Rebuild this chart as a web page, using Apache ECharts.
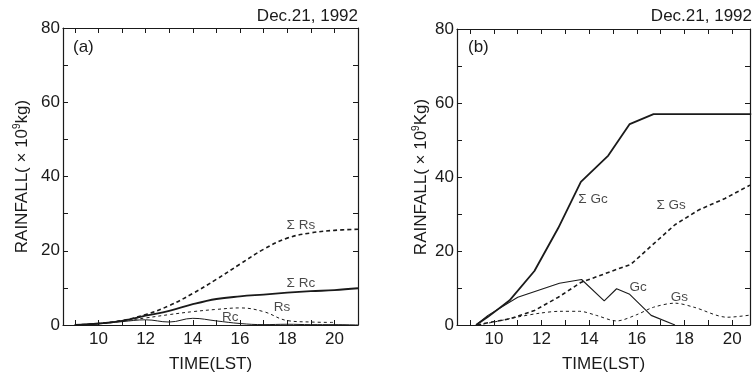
<!DOCTYPE html>
<html>
<head>
<meta charset="utf-8">
<script src="https://cdn.jsdelivr.net/npm/echarts@6/dist/echarts.min.js"></script>
<style>html,body{margin:0;padding:0;background:#fff}#c{width:756px;height:378px}</style>
</head>
<body>
<div id="c"></div>
<script>
// ---------- data ----------
const xTicks = [9, 10, 11, 12, 13, 14, 15, 16, 17, 18, 19, 20, 21];
const xLabels = [10, 12, 14, 16, 18, 20];
const yLabels = [0, 20, 40, 60, 80];

// panel (a): hourly values
const tA = [9, 10, 11, 12, 13, 14, 15, 16, 17, 18, 19, 20, 21];
const sumRs = [0, 0.4, 1.2, 2.8, 5.2, 8.5, 12.3, 16.4, 20.4, 23.4, 24.8, 25.5, 25.8];
const sumRc = [0, 0.4, 1.1, 2.5, 3.8, 5.6, 7.0, 7.7, 8.2, 8.7, 9.1, 9.4, 9.9];
const tRs = [9, 10, 11, 12, 13, 14, 15, 16, 17, 18, 19, 20];
const Rs = [0, 0.4, 1.1, 1.9, 2.8, 3.6, 4.2, 4.6, 3.6, 1.2, 0.8, 0.7];
const Rc = [0, 0.3, 0.9, 1.4, 0.8, 1.8, 1.1, 0.4, 0.1, 0.2, 0.1, 0.1, 0];

// panel (b): vertex values
const tSumGc = [9.25, 9.75, 10.65, 11.7, 12.7, 13.65, 14.8, 15.7, 16.7, 20.8];
const sumGc = [0, 2.2, 6.6, 14.6, 26.2, 38.7, 45.8, 54.3, 57.0, 57.0];
const tSumGs = [9.3, 9.9, 10.7, 11.7, 12.7, 13.65, 14.8, 15.75, 16.75, 17.6, 18.6, 19.7, 20.75];
const sumGs = [0, 0.8, 1.7, 3.9, 7.5, 11.5, 14.2, 16.4, 22.2, 27.1, 31.1, 34.2, 37.8];
const tGc = [9.25, 9.75, 11.0, 12.75, 13.68, 14.63, 15.15, 15.7, 16.6, 17.6];
const Gc = [0, 2.6, 7.5, 11.3, 12.3, 6.5, 9.8, 8.3, 2.6, 0];
const tGs = [9.3, 10.0, 10.95, 11.93, 12.77, 13.6, 14.3, 15.15, 16.0, 16.7, 17.6, 18.4, 19.8, 20.9];
const Gs = [0, 0.8, 2.1, 3.2, 3.7, 3.7, 2.6, 1.1, 2.8, 4.8, 5.9, 4.8, 2.1, 2.8];

// curve annotations
const annAText = ['Σ Rs', 'Σ Rc', 'Rs', 'Rc'];
const annAX = [18.58, 18.58, 17.78, 15.59];
const annAY = [26.9, 11.3, 4.8, 2.2];
const annBText = ['Σ Gc', 'Σ Gs', 'Gc', 'Gs'];
const annBX = [14.16, 17.44, 16.05, 17.79];
const annBY = [34.0, 32.4, 10.2, 7.5];

// ---------- chart ----------
const FONT = '"Liberation Sans", Arial, sans-serif';
const INK = '#1a1a1a';
const zip = (a, b) => a.map((v, i) => [v, b[i]]);

const grids = [
  { left: 63, top: 28, width: 295, height: 298 },
  { left: 457, top: 29, width: 293, height: 299 }
];
const xRange = [[8.5, 21.0], [8.45, 20.75]];
const yNameGap = [31, 26];

function xAxis(g, pos) {
  const bottom = pos === 'bottom';
  return {
    type: 'value', gridIndex: g, position: pos,
    min: xRange[g][0], max: xRange[g][1],
    axisLine: { show: true, onZero: false, lineStyle: { color: INK, width: 1.2 } },
    axisTick: { show: true, inside: true, length: 5, customValues: xTicks, lineStyle: { color: INK, width: 1 } },
    axisLabel: { show: bottom, customValues: xLabels, fontSize: 17, color: INK, fontFamily: FONT, margin: 6 },
    splitLine: { show: false },
    name: bottom ? 'TIME(LST)' : '',
    nameLocation: 'middle', nameGap: 31,
    nameTextStyle: { fontSize: 17, color: INK, fontFamily: FONT }
  };
}
function yAxis(g, pos, unit) {
  const left = pos === 'left';
  return {
    type: 'value', gridIndex: g, position: pos,
    min: 0, max: 80, interval: 10,
    axisLine: { show: true, onZero: false, lineStyle: { color: INK, width: 1.2 } },
    axisTick: { show: true, inside: true, length: 5, lineStyle: { color: INK, width: 1 } },
    axisLabel: { show: left, customValues: yLabels, fontSize: 17, color: INK, fontFamily: FONT, margin: 3 },
    splitLine: { show: false },
    name: left ? '{a|RAINFALL( × 10}{s|9}{a|' + unit + ')}' : '',
    nameLocation: 'middle', nameGap: yNameGap[g], nameRotate: 90,
    nameTextStyle: {
      rich: {
        a: { fontSize: 17, color: INK, fontFamily: FONT, lineHeight: 20 },
        s: { fontSize: 10, color: INK, fontFamily: FONT, verticalAlign: 'top', lineHeight: 20, padding: [0, 0, 8, 0] }
      }
    }
  };
}
function line(g, data, width, type, smooth) {
  return {
    type: 'line', xAxisIndex: g * 2, yAxisIndex: g * 2, data: data,
    symbol: 'none', smooth: smooth, silent: true, animation: false,
    lineStyle: { color: INK, width: width, type: type }
  };
}
function ann(g, texts, xs, ys) {
  return {
    type: 'scatter', xAxisIndex: g * 2, yAxisIndex: g * 2, symbolSize: 0, silent: true, animation: false,
    data: texts.map((t, i) => ({ value: [xs[i], ys[i]], name: t })),
    label: { show: true, position: 'inside', formatter: p => p.name, fontSize: 13.5, color: INK, fontFamily: FONT }
  };
}
const tStyle = { fontSize: 17, fontWeight: 'normal', color: INK, fontFamily: FONT };

const option = {
  backgroundColor: '#fff',
  animation: false,
  grid: grids,
  xAxis: [xAxis(0, 'bottom'), xAxis(0, 'top'), xAxis(1, 'bottom'), xAxis(1, 'top')],
  yAxis: [yAxis(0, 'left', 'kg'), yAxis(0, 'right', 'kg'), yAxis(1, 'left', 'Kg'), yAxis(1, 'right', 'Kg')],
  title: [
    { text: 'Dec.21, 1992', right: 756 - 358, top: 8, padding: 0, textStyle: tStyle },
    { text: 'Dec.21, 1992', right: 4, top: 8, padding: 0, textStyle: tStyle },
    { text: '(a)', left: 73, top: 39, padding: 0, textStyle: tStyle },
    { text: '(b)', left: 468, top: 39, padding: 0, textStyle: tStyle }
  ],
  series: [
    line(0, zip(tA, sumRs), 1.6, [4, 3], 0.4),
    line(0, zip(tA, sumRc), 1.8, 'solid', 0.4),
    line(0, zip(tRs, Rs), 1, [3, 3], 0.4),
    line(0, zip(tA, Rc), 1, 'solid', 0.4),
    ann(0, annAText, annAX, annAY),
    line(1, zip(tSumGc, sumGc), 1.8, 'solid', false),
    line(1, zip(tSumGs, sumGs), 1.6, [4, 3], false),
    line(1, zip(tGc, Gc), 1.1, 'solid', false),
    line(1, zip(tGs, Gs), 1, [3, 3], 0.3),
    ann(1, annBText, annBX, annBY)
  ]
};
const chart = echarts.init(document.getElementById('c'), null, { renderer: 'canvas' });
chart.setOption(option);
</script>
</body>
</html>
